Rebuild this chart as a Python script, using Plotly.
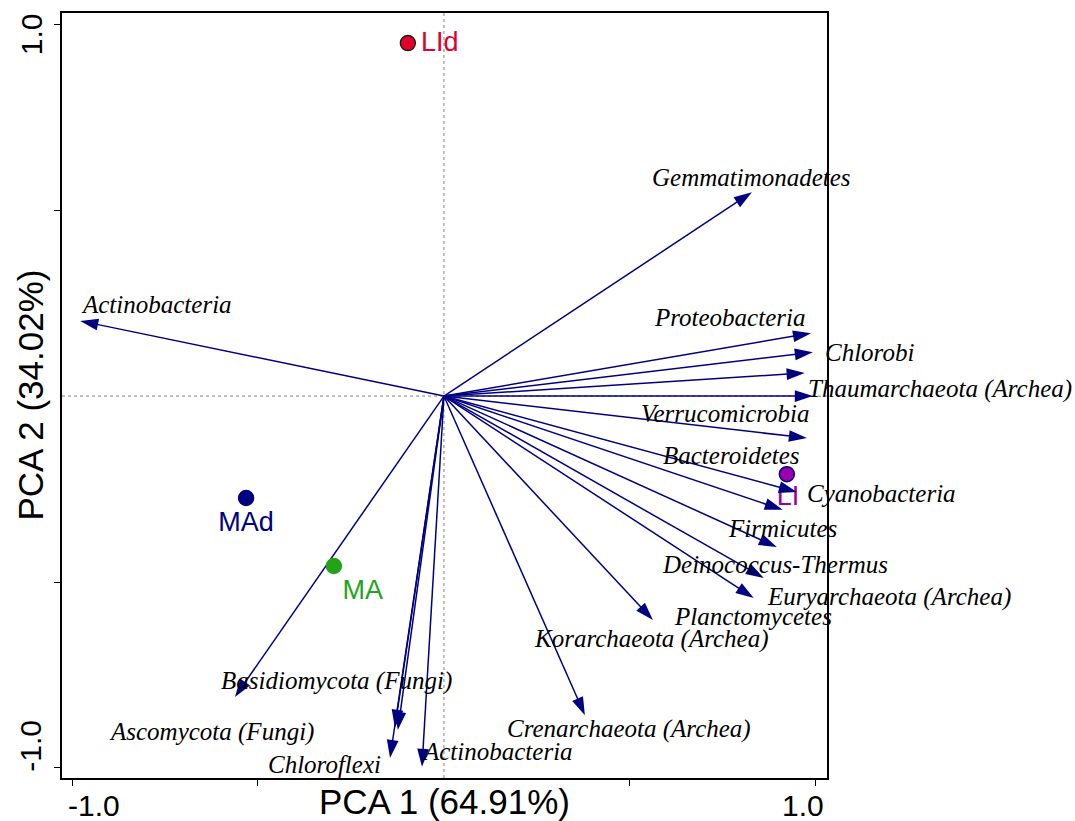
import plotly.graph_objects as go

# Species loadings (arrow tips) on PCA 1 / PCA 2
taxa = [
    "Actinobacteria", "Gemmatimonadetes", "Proteobacteria", "Chlorobi",
    "Thaumarchaeota (Archea)", "Verrucomicrobia", "Bacteroidetes", "Cyanobacteria",
    "Firmicutes", "Deinococcus-Thermus", "Euryarchaeota (Archea)", "Planctomycetes",
    "Korarchaeota (Archea)", "Crenarchaeota (Archea)", "Ascomycota (Fungi)",
    "Basidiomycota (Fungi)", "Chloroflexi", "Actinobacteria",
]
load_pc1 = [-0.978, 0.828, 0.987, 0.992, 0.970, 0.992, 0.976, 0.949, 0.911, 0.895,
            0.860, 0.833, 0.562, 0.379, -0.562, -0.124, -0.145, -0.059]
load_pc2 = [0.202, 0.548, 0.169, 0.118, 0.062, 0.000, -0.113, -0.258, -0.306, -0.406,
            -0.489, -0.543, -0.602, -0.858, -0.809, -0.898, -0.973, -0.997]
# second, nearly coincident vector next to Basidiomycota
extra_pc1 = [-0.132]
extra_pc2 = [-0.892]

# Label placement for each taxon (data units)
label_x = [-0.772, 0.828, 0.769, 1.143, 1.333, 0.758, 0.774, 1.177, 0.909, 0.890,
           1.196, 0.831, 0.559, 0.497, -0.624, -0.288, -0.320, 0.145]
label_y = [0.245, 0.589, 0.210, 0.118, 0.019, -0.046, -0.159, -0.261, -0.355, -0.452,
           -0.541, -0.594, -0.653, -0.895, -0.903, -0.765, -0.992, -0.957]

# Sample scores
samples = ["LId", "MAd", "MA", "LI"]
samp_pc1 = [-0.097, -0.532, -0.296, 0.922]
samp_pc2 = [0.949, -0.274, -0.457, -0.210]
samp_fill = ["#e0002a", "#000080", "#22a31a", "#9900aa"]
samp_edge = ["#202020", "#000080", "#22a31a", "#000080"]
samp_text_x = [-0.011, -0.532, -0.218, 0.925]
samp_text_y = [0.946, -0.344, -0.527, -0.274]

axis_title_x = "PCA 1 (64.91%)"
axis_title_y = "PCA 2 (34.02%)"
tick_vals = [-1.0, -0.5, 0.5, 1.0]
tick_labels = ["-1.0", "1.0"]

AX_RANGE = [-1.027, 1.030]
NAVY = "#000080"
SANS = "Liberation Sans, Arial, sans-serif"
SERIF = "Liberation Serif, Times New Roman, serif"


def to_paper(v):
    """Map a data value on either axis to the paper fraction of the plot area."""
    return (v - AX_RANGE[0]) / (AX_RANGE[1] - AX_RANGE[0])


fig = go.Figure()

# sample names (under the arrows)
fig.add_trace(go.Scatter(
    x=samp_text_x, y=samp_text_y, mode="text", text=samples,
    textfont=dict(family=SANS, size=27, color=samp_fill),
    hoverinfo="skip", showlegend=False, cliponaxis=False,
))

# loading vectors
vec_x = load_pc1 + extra_pc1
vec_y = load_pc2 + extra_pc2
vec_names = taxa + ["Basidiomycota (Fungi)"]
for vx, vy, nm in zip(vec_x, vec_y, vec_names):
    fig.add_trace(go.Scatter(
        x=[0, vx], y=[0, vy], mode="lines+markers", name=nm,
        line=dict(color=NAVY, width=1.5),
        marker=dict(symbol=["circle", "arrow"], size=[0, 19], angleref="previous",
                    color=NAVY, opacity=1, line=dict(width=0)),
        showlegend=False, cliponaxis=False,
    ))

# sample points
fig.add_trace(go.Scatter(
    x=samp_pc1, y=samp_pc2, mode="markers", text=samples,
    marker=dict(size=15, color=samp_fill, line=dict(color=samp_edge, width=1.5)),
    showlegend=False, cliponaxis=False,
))

# taxon labels (paper coordinates so that labels beyond the frame still show)
for tx, ty, nm in zip(label_x, label_y, taxa):
    fig.add_annotation(x=to_paper(tx), y=to_paper(ty), xref="paper", yref="paper",
                       text=nm, showarrow=False,
                       font=dict(family=SERIF, size=25, color="black", style="italic"),
                       xanchor="center", yanchor="middle")

# origin cross-hairs
fig.add_shape(type="line", xref="x", yref="paper", x0=0, x1=0, y0=0, y1=1,
              line=dict(color="#808080", width=1, dash="dot"), layer="below")
fig.add_shape(type="line", xref="paper", yref="y", x0=0, x1=1, y0=0, y1=0,
              line=dict(color="#808080", width=1, dash="dot"), layer="below")

# tick labels at the axis ends
tick_font = dict(family=SANS, size=30, color="black")
fig.add_annotation(x=to_paper(-0.94), y=0, xref="paper", yref="paper", yshift=-27,
                   xanchor="center", yanchor="middle", text=tick_labels[0],
                   showarrow=False, font=tick_font)
fig.add_annotation(x=to_paper(0.965), y=0, xref="paper", yref="paper", yshift=-27,
                   xanchor="center", yanchor="middle", text=tick_labels[1],
                   showarrow=False, font=tick_font)
fig.add_annotation(x=0, y=to_paper(-0.94), xref="paper", yref="paper", xshift=-31,
                   xanchor="center", yanchor="middle", text=tick_labels[0],
                   textangle=-90, showarrow=False, font=tick_font)
fig.add_annotation(x=0, y=to_paper(0.973), xref="paper", yref="paper", xshift=-31,
                   xanchor="center", yanchor="middle", text=tick_labels[1],
                   textangle=-90, showarrow=False, font=tick_font)

# axis titles
fig.add_annotation(x=0.5, y=0, xref="paper", yref="paper", yshift=-23,
                   xanchor="center", yanchor="middle", text=axis_title_x,
                   showarrow=False, font=dict(family=SANS, size=35, color="black"))
fig.add_annotation(x=0, y=0.5, xref="paper", yref="paper", xshift=-32,
                   xanchor="center", yanchor="middle", text=axis_title_y,
                   textangle=-90, showarrow=False, font=dict(family=SANS, size=35, color="black"))

axis_common = dict(
    range=AX_RANGE, showgrid=False, zeroline=False, showline=True,
    linecolor="black", linewidth=1.5, mirror=True, ticks="outside", ticklen=6,
    tickwidth=1.2, tickcolor="black", tickvals=tick_vals, showticklabels=False,
)
fig.update_xaxes(**axis_common)
fig.update_yaxes(**axis_common)

fig.update_layout(
    width=1075, height=821, plot_bgcolor="white", paper_bgcolor="white",
    margin=dict(l=62, r=248, t=13, b=43), showlegend=False,
)

fig.write_html("out.html")
